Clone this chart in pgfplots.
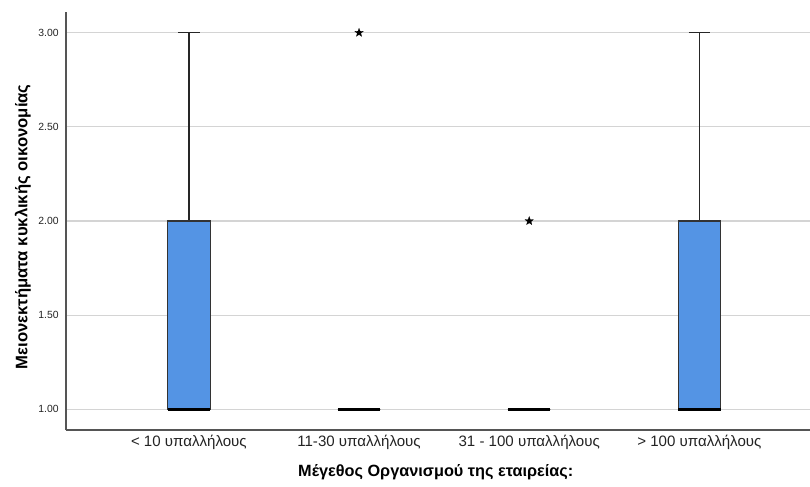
\documentclass[border=0pt]{standalone}
\usepackage{fontspec}
\setmainfont{Liberation Sans}
\usepackage{pgfplots}
\pgfplotsset{compat=1.18}
\usepgfplotslibrary{statistics}
\definecolor{boxblue}{RGB}{84,148,228}
\definecolor{gridgray}{RGB}{212,212,212}
\definecolor{axgray}{RGB}{85,85,85}
\definecolor{txt}{RGB}{35,35,35}
\pgfdeclareplotmark{fstar}{%
  \pgfpathmoveto{\pgfpointpolar{90}{\pgfplotmarksize}}%
  \pgfpathlineto{\pgfpointpolar{126}{0.42\pgfplotmarksize}}%
  \pgfpathlineto{\pgfpointpolar{162}{\pgfplotmarksize}}%
  \pgfpathlineto{\pgfpointpolar{198}{0.42\pgfplotmarksize}}%
  \pgfpathlineto{\pgfpointpolar{234}{\pgfplotmarksize}}%
  \pgfpathlineto{\pgfpointpolar{270}{0.42\pgfplotmarksize}}%
  \pgfpathlineto{\pgfpointpolar{306}{\pgfplotmarksize}}%
  \pgfpathlineto{\pgfpointpolar{342}{0.42\pgfplotmarksize}}%
  \pgfpathlineto{\pgfpointpolar{18}{\pgfplotmarksize}}%
  \pgfpathlineto{\pgfpointpolar{54}{0.42\pgfplotmarksize}}%
  \pgfpathclose
  \pgfusepathqfillstroke}
\begin{document}
\begin{tikzpicture}
\begin{axis}[
  scale only axis, width=558pt, height=313.5pt,
  xmin=0.278, xmax=4.65, ymin=0.89, ymax=3.11,
  axis x line*=bottom, axis y line*=left,
  axis line style={axgray, line width=0.8pt},
  xtick={1,2,3,4},
  xticklabels={< 10 υπαλλήλους, 11-30 υπαλλήλους, 31 - 100 υπαλλήλους, > 100 υπαλλήλους},
  ytick={1,1.5,2,2.5,3},
  /pgf/number format/fixed,
  /pgf/number format/fixed zerofill,
  /pgf/number format/precision=2,
  /pgf/number format/assume math mode=true,
  major tick length=0pt,
  ymajorgrids, grid style={gridgray, line width=0.8pt},
  xticklabel style={font=\fontsize{11.3pt}{13pt}\selectfont, text=txt, anchor=center, yshift=-9.5pt},
  yticklabel style={font=\fontsize{7.8pt}{9pt}\selectfont, text=txt, anchor=east, xshift=-2pt},
  xlabel={\textbf{Μέγεθος Οργανισμού της εταιρείας:}},
  ylabel={\textbf{Μειονεκτήματα κυκλικής οικονομίας}},
  xlabel style={font=\fontsize{12.2pt}{14pt}\selectfont, at={(axis description cs:0.497,0)}, anchor=center, yshift=-32pt},
  ylabel style={font=\fontsize{12.5pt}{14pt}\selectfont, at={(axis description cs:-0.058,0.486)}, anchor=center},
  boxplot/draw direction=y,
  boxplot/box extend=0.25,
  boxplot/whisker extend=0.125,
  boxplot/every box/.style={fill=boxblue, draw=black!80, line width=0.9pt},
  boxplot/every whisker/.style={draw=black!85, line width=1.1pt},
  boxplot/every median/.style={draw=black, line width=2.1pt},
  clip=false,
]
\addplot[boxplot prepared={draw position=1, lower whisker=1, lower quartile=1, median=1, upper quartile=2, upper whisker=3}] coordinates {};
\addplot[mark=fstar, mark size=3.3pt, mark options={fill=black, draw=black, line width=0.2pt},
  boxplot prepared={draw position=2, lower whisker=1, lower quartile=1, median=1, upper quartile=1, upper whisker=1}]
  table[row sep=\\, y index=0] {data\\ 3\\};
\addplot[mark=fstar, mark size=3.3pt, mark options={fill=black, draw=black, line width=0.2pt},
  boxplot prepared={draw position=3, lower whisker=1, lower quartile=1, median=1, upper quartile=1, upper whisker=1}]
  table[row sep=\\, y index=0] {data\\ 2\\};
\addplot[boxplot prepared={draw position=4, lower whisker=1, lower quartile=1, median=1, upper quartile=2, upper whisker=3}] coordinates {};
\end{axis}
\pgfresetboundingbox
\path[use as bounding box] (-49.5pt,-42pt) rectangle (558pt,322.5pt);
\end{tikzpicture}
\end{document}
